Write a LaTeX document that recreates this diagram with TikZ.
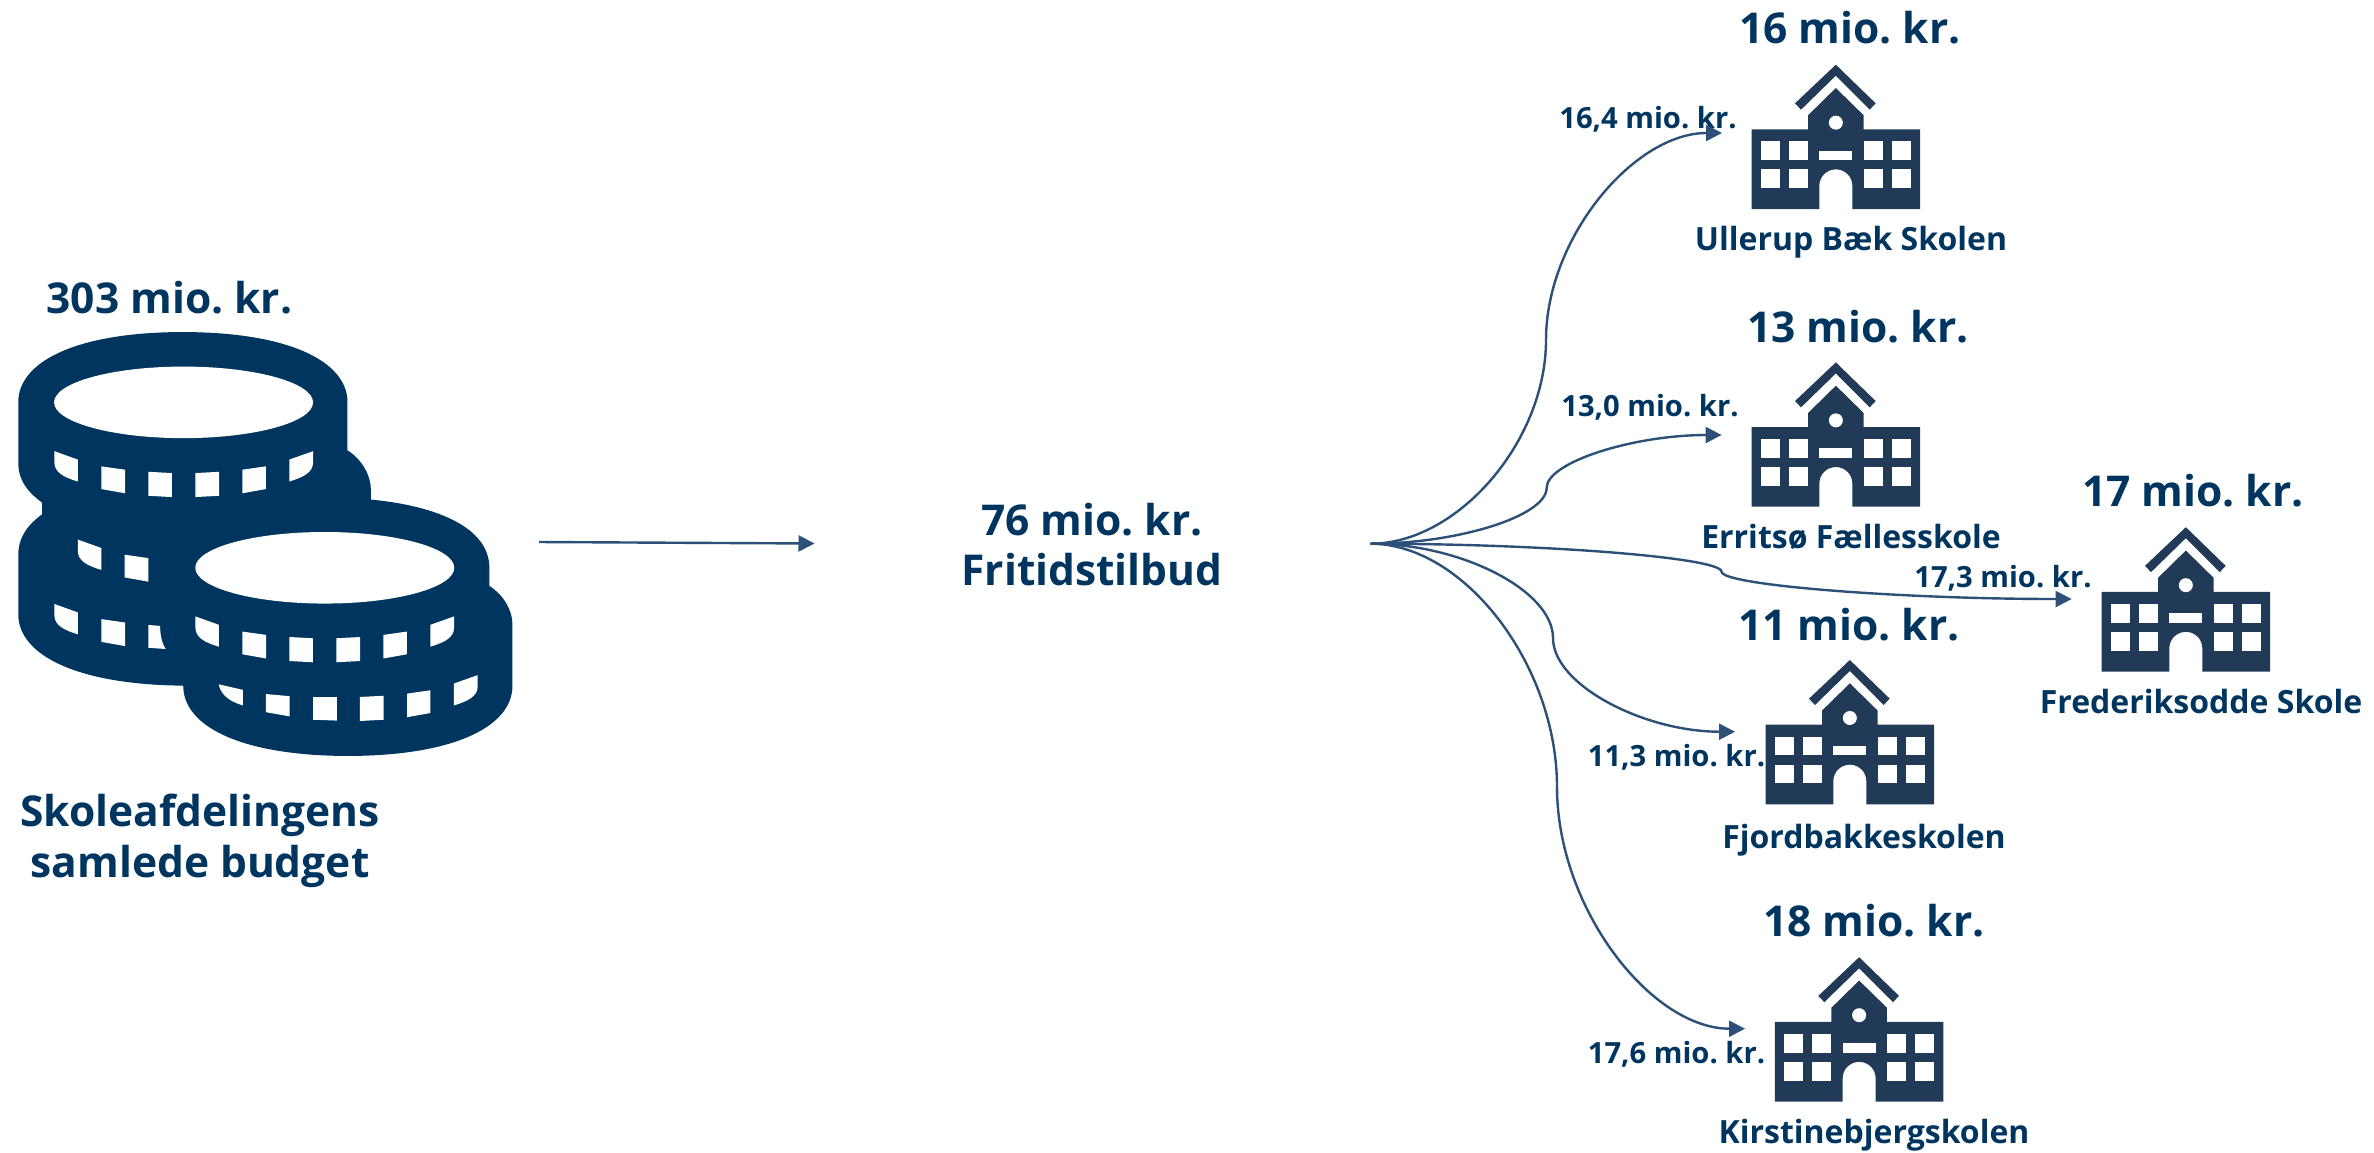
\documentclass[tikz,border=0pt]{standalone}
\usepackage{fontspec}
\setmainfont{Open Sans}[BoldFont={Open Sans Bold}]
\usetikzlibrary{arrows.meta}
\definecolor{txtblue}{HTML}{00355F}
\definecolor{iconblue}{HTML}{213A58}
\definecolor{lineblue}{HTML}{2C5078}
\tikzset{
  smalltxt/.style={anchor=base,inner sep=0pt,text=txtblue,font=\frenchspacing\fontsize{29.2}{36}\selectfont\bfseries},
  nametxt/.style={anchor=base,inner sep=0pt,text=txtblue,font=\frenchspacing\fontsize{32}{40}\selectfont\bfseries},
  headtxt/.style={anchor=base,inner sep=0pt,text=txtblue,font=\frenchspacing\fontsize{42.5}{50}\selectfont\bfseries},
  conn/.style={draw=lineblue,line width=2.4pt,-{Triangle[length=16pt,width=16pt]}},
}
\newcommand{\schoolicon}[2]{%
\begin{scope}[shift={(#1,#2)},x=0.33333pt,y=-0.33333pt]
 \fill[iconblue] (95,507) -- (95,268) -- (264,268) -- (264,226) -- (347.5,144) -- (431,226) -- (431,268) -- (600,268) -- (600,507) -- (397,507) -- (397,437)
   .. controls (397,410) and (375,388) .. (347.5,388) .. controls (320,388) and (298,410) .. (298,437) -- (298,507) -- cycle;
 \fill[iconblue] (225,190) -- (347.5,74) -- (467,190) -- (449,209) -- (347.5,107) -- (243,209) -- cycle;
 \fill[white] (347.5,248) circle[radius=21];
 \fill[white] (298,332) rectangle (397,360);
 \foreach \xa/\xb in {123/180,207/264,431/488,516/572}{
   \fill[white] (\xa,304) rectangle (\xb,360);
   \fill[white] (\xa,388) rectangle (\xb,444);
 }
\end{scope}}
\newcommand{\bandL}{\fill[white] (158,478) -- (226,498) -- (226,550) .. controls (185,540) and (158,528) .. (158,505) -- cycle;}
\newcommand{\bandR}{\fill[white] (909,478) -- (840,498) -- (840,550) .. controls (881,540) and (909,528) .. (909,505) -- cycle;}
\newcommand{\winA}{\fill[white] (294,514) -- (363,522) -- (363,578) -- (294,568) -- cycle;}
\newcommand{\winB}{\fill[white] (431,527) -- (499,530) -- (499,587) -- (431,584) -- cycle;}
\newcommand{\winC}{\fill[white] (567,530) -- (636,527) -- (636,584) -- (567,587) -- cycle;}
\newcommand{\winD}{\fill[white] (704,522) -- (772,514) -- (772,568) -- (704,578) -- cycle;}
\begin{document}
\begin{tikzpicture}[x=1pt,y=-1pt]
\useasboundingbox (0,0) rectangle (2374,1152);
% coins
\begin{scope}[x=0.34439pt,y=-0.42092pt,shift={(0,593.9)}]
 \fill[txtblue] (53,362) .. controls (53,262) and (231,195) .. (531,195) .. controls (831,195) and (1009,262) .. (1009,362) -- (1009,476)
   .. controls (1050,497) and (1077,535) .. (1077,570) -- (1077,593)
   .. controls (1270,608) and (1421,660) .. (1421,755) -- (1421,798)
   .. controls (1462,820) and (1488,855) .. (1488,890) -- (1488,1035)
   .. controls (1488,1135) and (1310,1202) .. (1010,1202) .. controls (710,1202) and (532,1135) .. (532,1035)
   .. controls (231,1033) and (53,965) .. (53,865) -- (53,725)
   .. controls (53,680) and (85,650) .. (122,628) -- (122,600)
   .. controls (85,578) and (53,550) .. (53,505) -- cycle;
 \fill[white] (533,362) circle[x radius=376,y radius=85];
 \bandL \bandR \winA \winB \winC \winD
 \fill[white] (943,755) circle[x radius=376,y radius=85];
 \begin{scope}[shift={(409.5,392.5)}] \bandL \bandR \winA \winB \winC \winD \end{scope}
 \begin{scope}[shift={(478,532)}] \bandR \winC \winD \end{scope}
 \fill[white] (636,1032) -- (705,1045) -- (705,1082) .. controls (665,1072) and (645,1058) .. (636,1036) -- cycle;
 \fill[white] (772,1055) -- (841,1060) -- (841,1108) -- (772,1098) -- cycle;
 \fill[white] (909,1062) -- (978,1062) -- (978,1118) -- (909,1116) -- cycle;
 \begin{scope}[shift={(0,363)}] \bandL \winA \end{scope}
 \fill[white] (431,891) -- (465,893) .. controls (465,915) and (470,935) .. (481,948) -- (431,945) -- cycle;
 \begin{scope}[shift={(68,210)}] \bandL \winA \end{scope}
\end{scope}
% schools
\schoolicon{1720}{40}
\schoolicon{1720}{337.7}
\schoolicon{2070}{502.5}
\schoolicon{1734}{635.3}
\schoolicon{1743.3}{932.5}
% texts
\node[headtxt] (t303) at (169.5,313) {303 mio. kr.};
\node[headtxt] (tSk) at (200,826) {Skoleafdelingens};
\node[headtxt] (tSa) at (200,877) {samlede budget};
\node[headtxt] (t76) at (1092,535) {76 mio. kr.};
\node[headtxt] (tFr) at (1092,585) {Fritidstilbud};
\node[headtxt] (a16) at (1850,43) {16 mio. kr.};
\node[headtxt] (a13) at (1858,342) {13 mio. kr.};
\node[headtxt] (a17) at (2193,506.7) {17 mio. kr.};
\node[headtxt] (a11) at (1849,640.7) {11 mio. kr.};
\node[headtxt] (a18) at (1874,936) {18 mio. kr.};
\node[smalltxt] (b16) at (1648,128) {16,4 mio. kr.};
\node[smalltxt] (b13) at (1650,416.7) {13,0 mio. kr.};
\node[smalltxt] (b17) at (2003,587) {17,3 mio. kr.};
\node[smalltxt] (b11) at (1676.5,766.7) {11,3 mio. kr.};
\node[smalltxt] (b18) at (1676.5,1063) {17,6 mio. kr.};
\node[nametxt] (n1) at (1851,250) {Ullerup Bæk Skolen};
\node[nametxt] (n2) at (1851,548) {Erritsø Fællesskole};
\node[nametxt] (n3) at (2201,713) {Frederiksodde Skole};
\node[nametxt] (n4) at (1864,848) {Fjordbakkeskolen};
\node[nametxt] (n5) at (1874,1143) {Kirstinebjergskolen};
% connectors
\coordinate (arS) at (539,542);
\coordinate (arE) at (814.5,543.5);
\draw[conn] (arS) -- (arE);
\coordinate (hub) at (1370.6,543.7);
\coordinate (e1) at (1722,133);
\coordinate (e2) at (1721.6,435);
\coordinate (e3) at (2071.6,599);
\coordinate (e4) at (1735,731.7);
\coordinate (e5) at (1745,1028.7);
\coordinate (m1) at (1546,340);
\coordinate (m2) at (1546.6,488);
\coordinate (m3) at (1721.6,571.7);
\coordinate (m4) at (1553,638);
\coordinate (m5) at (1557,787);
\draw[conn] (hub) .. controls (1458,543.7) and (1546,441) .. (m1) .. controls (1546,238) and (1634,133) .. (e1);
\draw[conn] (hub) .. controls (1458,543.7) and (1546.6,516) .. (m2) .. controls (1546.6,462) and (1634,435) .. (e2);
\draw[conn] (hub) .. controls (1546,543.7) and (1721.6,557.7) .. (m3) .. controls (1721.6,585) and (1897,599) .. (e3);
\draw[conn] (hub) .. controls (1462,543.7) and (1553,591) .. (m4) .. controls (1553,685) and (1644,731.7) .. (e4);
\draw[conn] (hub) .. controls (1464,543.7) and (1557,665) .. (m5) .. controls (1557,908) and (1651,1028.7) .. (e5);
\end{tikzpicture}
\end{document}
